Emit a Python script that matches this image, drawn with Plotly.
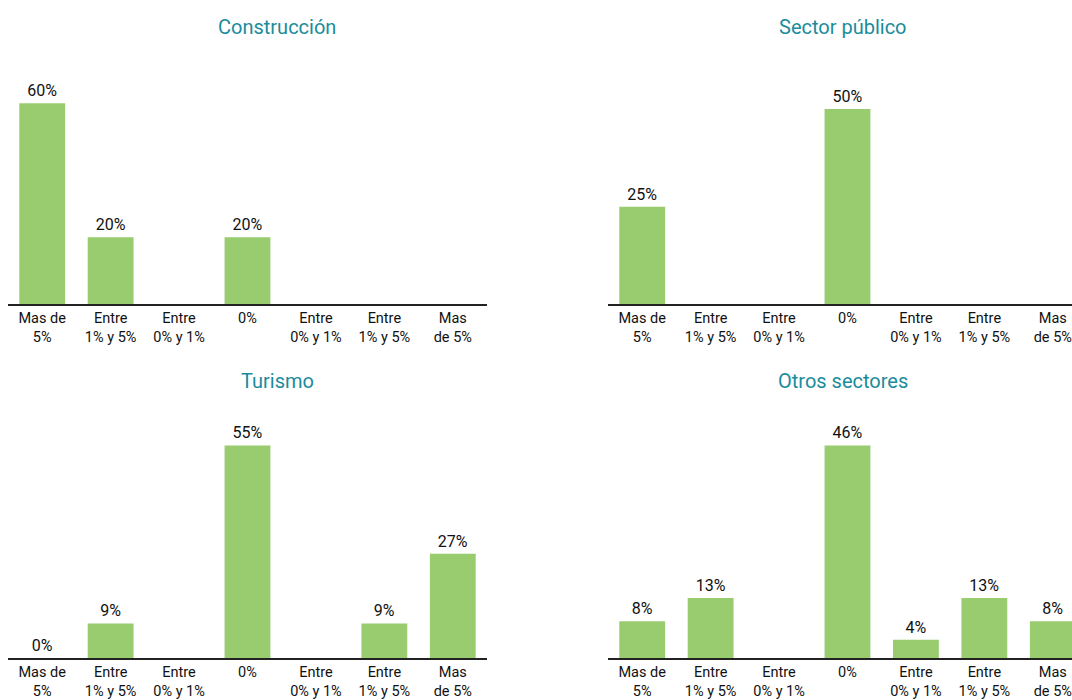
import plotly.graph_objects as go

# ---- data ----
categories = ["Mas de<br>5%", "Entre<br>1% y 5%", "Entre<br>0% y 1%", "0%",
              "Entre<br>0% y 1%", "Entre<br>1% y 5%", "Mas<br>de 5%"]
titles = ["Construcción", "Sector público", "Turismo", "Otros sectores"]

construccion = [60, 20, 0, 20, 0, 0, 0]
construccion_labels = ["60%", "20%", "", "20%", "", "", ""]

sector_publico = [25, 0, 0, 50, 0, 0, 0]
sector_publico_labels = ["25%", "", "", "50%", "", "", ""]

turismo = [0, 9, 0, 55, 0, 9, 27]
turismo_labels = ["0%", "9%", "", "55%", "", "9%", "27%"]

otros = [8, 13, 0, 46, 4, 13, 8]
otros_labels = ["8%", "13%", "", "46%", "4%", "13%", "8%"]

# ---- style ----
W, H = 1072, 700
BAR = "#99CC6E"
TEAL = "#1A8C9C"
FONT = "Roboto, Liberation Sans, sans-serif"
xpos = list(range(len(categories)))

series = [construccion, sector_publico, turismo, otros]
labels = [construccion_labels, sector_publico_labels, turismo_labels, otros_labels]
yranges = [66.8, 57.3, 61.7, 51.6]

# pixel geometry
xdom_px = [(8, 487), (608, 1072)]
ydom_px = [(81, 306), (422, 662)]
unit = (487 - 8) / 7.0

fig = go.Figure()
for i in range(4):
    r, c = divmod(i, 2)
    n = "" if i == 0 else str(i + 1)
    fig.add_trace(go.Bar(
        x=xpos, y=series[i], text=labels[i], textposition="outside",
        marker=dict(color=BAR, line=dict(width=0)), width=0.67,
        textfont=dict(family=FONT, size=16, color="#111111"),
        cliponaxis=False, xaxis="x" + n, yaxis="y" + n, showlegend=False,
        hoverinfo="skip",
    ))
    x0, x1 = xdom_px[c]
    yt, yb = ydom_px[r]
    xr_end = -0.5 + (x1 - x0) / unit
    fig.layout["xaxis" + n] = dict(
        domain=[x0 / W, x1 / W], range=[-0.5, xr_end], anchor="y" + n,
        tickvals=xpos, ticktext=categories, showline=True, linecolor="#222222",
        linewidth=1.5, showgrid=False, zeroline=False, ticks="",
        tickfont=dict(family=FONT, size=14.5, color="#111111"), tickangle=0,
        fixedrange=True,
    )
    fig.layout["yaxis" + n] = dict(
        domain=[1 - yb / H, 1 - yt / H], range=[0, yranges[i]], anchor="x" + n,
        visible=False, fixedrange=True,
    )
    tx = [277, 843][c]
    ty = [27, 383][r]
    fig.add_annotation(
        x=tx / W, y=1 - ty / H, xref="paper", yref="paper", text=titles[i],
        showarrow=False, xanchor="center", yanchor="middle",
        font=dict(family=FONT, size=20, color=TEAL),
    )

fig.update_layout(
    width=W, height=H, margin=dict(l=0, r=0, t=0, b=0),
    paper_bgcolor="white", plot_bgcolor="white", bargap=0.33,
    font=dict(family=FONT),
)
fig.write_html(
    "out.html",
    config={"displayModeBar": False},
    post_script="document.body.style.margin='0';document.body.style.overflow='hidden';",
)
